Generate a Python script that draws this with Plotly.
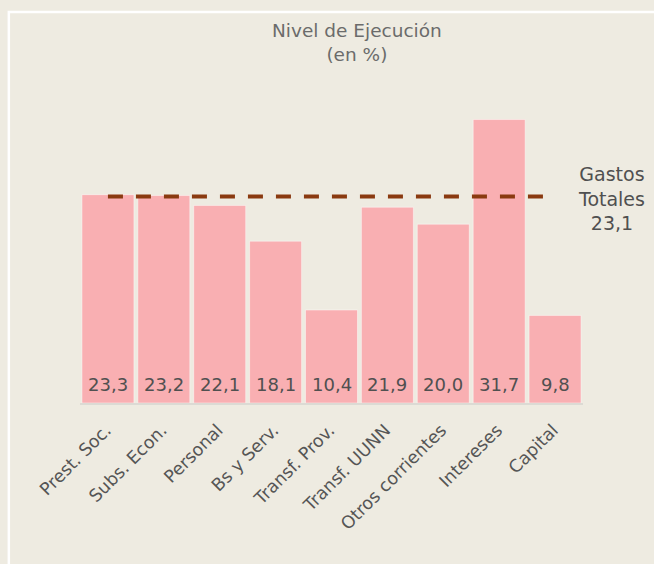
import plotly.graph_objects as go

categories = ["Prest. Soc.", "Subs. Econ.", "Personal", "Bs y Serv.", "Transf. Prov.",
              "Transf. UUNN", "Otros corrientes", "Intereses", "Capital"]
values = [23.3, 23.2, 22.1, 18.1, 10.4, 21.9, 20.0, 31.7, 9.8]
total_value = 23.1
title_lines = ["Nivel de Ejecución", "(en %)"]
total_label_lines = ["Gastos", "Totales", "23,1"]

BG = "#EEEBE1"
FONT = "DejaVu Sans"

def fmt(v):
    return f"{v:.1f}".replace(".", ",")

fig = go.Figure()
fig.add_trace(go.Bar(
    x=categories, y=values,
    marker=dict(color="#F9AFB2", line=dict(color="rgba(255,255,255,0.45)", width=1)),
    hoverinfo="skip",
))
fig.add_trace(go.Scatter(
    x=[categories[0], categories[-1]], y=[total_value, total_value],
    mode="lines",
    line=dict(color="#8A3A10", width=4, dash="15px,13px"),
    hoverinfo="skip",
))

annotations = []
for c, v in zip(categories, values):
    annotations.append(dict(
        x=c, y=0, xref="x", yref="y", text=fmt(v), showarrow=False,
        yanchor="bottom", yshift=6,
        font=dict(family=FONT, size=18, color="#505050"),
    ))
annotations.append(dict(
    x=0.5515, y=1.186, xref="paper", yref="paper", yanchor="middle", xanchor="center",
    text="<br>".join(title_lines), showarrow=False,
    font=dict(family=FONT, size=18.5, color="#6b6b6b"),
))
annotations.append(dict(
    x=1.057, y=22.9, xref="paper", yref="y", yanchor="middle", xanchor="center",
    text="<br>".join(total_label_lines), showarrow=False, align="center",
    font=dict(family=FONT, size=19, color="#505050"),
))

fig.update_layout(
    width=654, height=564,
    margin=dict(l=80, r=71, t=99, b=161, pad=0),
    paper_bgcolor=BG, plot_bgcolor=BG,
    showlegend=False,
    bargap=0.07,
    annotations=annotations,
    shapes=[dict(type="rect", xref="paper", yref="paper",
                 x0=-0.1415, x1=1.3, y0=-0.7, y1=1.286,
                 line=dict(color="white", width=2.5), layer="below")],
    xaxis=dict(
        tickangle=-45, tickfont=dict(family=FONT, size=17.5, color="#555555"),
        showgrid=False, showline=True, linecolor="#DCDAD4", linewidth=2,
        ticks="", range=[-0.5, 8.5],
        ticklabelshift=-2, ticklabelstandoff=8,
    ),
    yaxis=dict(range=[0, 34], visible=False, showgrid=False, zeroline=False),
)

fig.write_html(
    "out.html",
    config={"displayModeBar": False},
    post_script="document.body.style.margin='0';document.body.style.background='#EEEBE1';",
)
